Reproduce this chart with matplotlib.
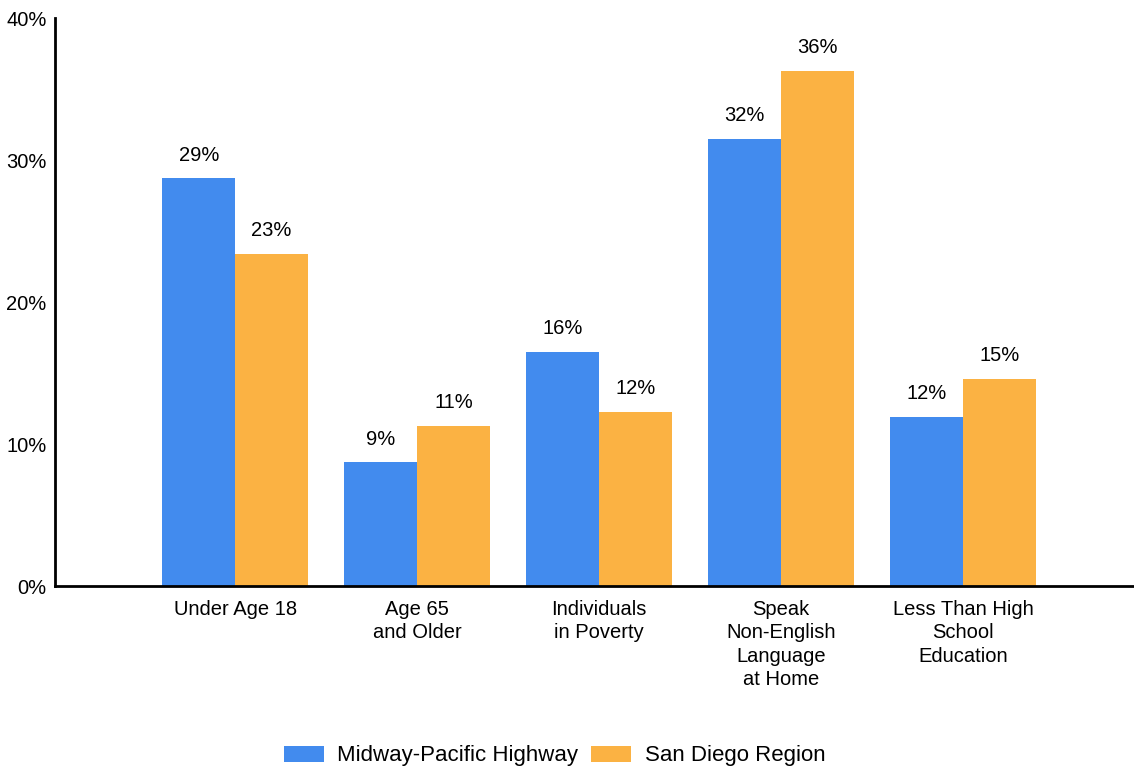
import matplotlib.pyplot as plt
import numpy as np

plt.rcParams['font.family'] = ['Liberation Sans', 'DejaVu Sans']

categories = ['Under Age 18', 'Age 65\nand Older', 'Individuals\nin Poverty',
              'Speak\nNon-English\nLanguage\nat Home', 'Less Than High\nSchool\nEducation']
midway = [28.7, 8.7, 16.5, 31.5, 11.9]
san_diego = [23.4, 11.3, 12.25, 36.3, 14.6]
series_names = ['Midway-Pacific Highway', 'San Diego Region']
colors = ['#428BEE', '#FBB243']

fig = plt.figure(figsize=(11.34, 7.72), dpi=100)
ax = fig.add_axes([55 / 1134, 1 - 586 / 772, 1 - 55 / 1134, (586 - 18) / 772])

x = np.arange(len(categories))
w = 0.4
for vals, off, col, name in [(midway, -w / 2, colors[0], series_names[0]),
                             (san_diego, w / 2, colors[1], series_names[1])]:
    bars = ax.bar(x + off, vals, width=w, color=col, label=name)
    for b, v in zip(bars, vals):
        ax.annotate(f'{round(v):.0f}%', (b.get_x() + b.get_width() / 2, v),
                    xytext=(0, 10), textcoords='offset points',
                    ha='center', va='bottom', fontsize=14.5)

ax.set_xlim(-0.99, 4.94)
ax.set_ylim(0, 40)
ax.set_yticks([0, 10, 20, 30, 40])
ax.set_yticklabels([f'{t}%' for t in [0, 10, 20, 30, 40]], fontsize=14.5)
ax.set_xticks(x)
ax.set_xticklabels(categories, fontsize=14.5, linespacing=1.3)
ax.tick_params(axis='both', length=0)
ax.tick_params(axis='x', pad=10)
ax.tick_params(axis='y', pad=6)
for s in ['top', 'right']:
    ax.spines[s].set_visible(False)
for s in ['left', 'bottom']:
    ax.spines[s].set_linewidth(2)
    ax.spines[s].set_color('black')

fig.legend(loc='center', bbox_to_anchor=(0.489, 16 / 772), ncol=2, frameon=False,
           fontsize=16, handlelength=1.8, handleheight=0.75,
           handletextpad=0.6, columnspacing=0.6)

fig.savefig('out.png', dpi=100)
